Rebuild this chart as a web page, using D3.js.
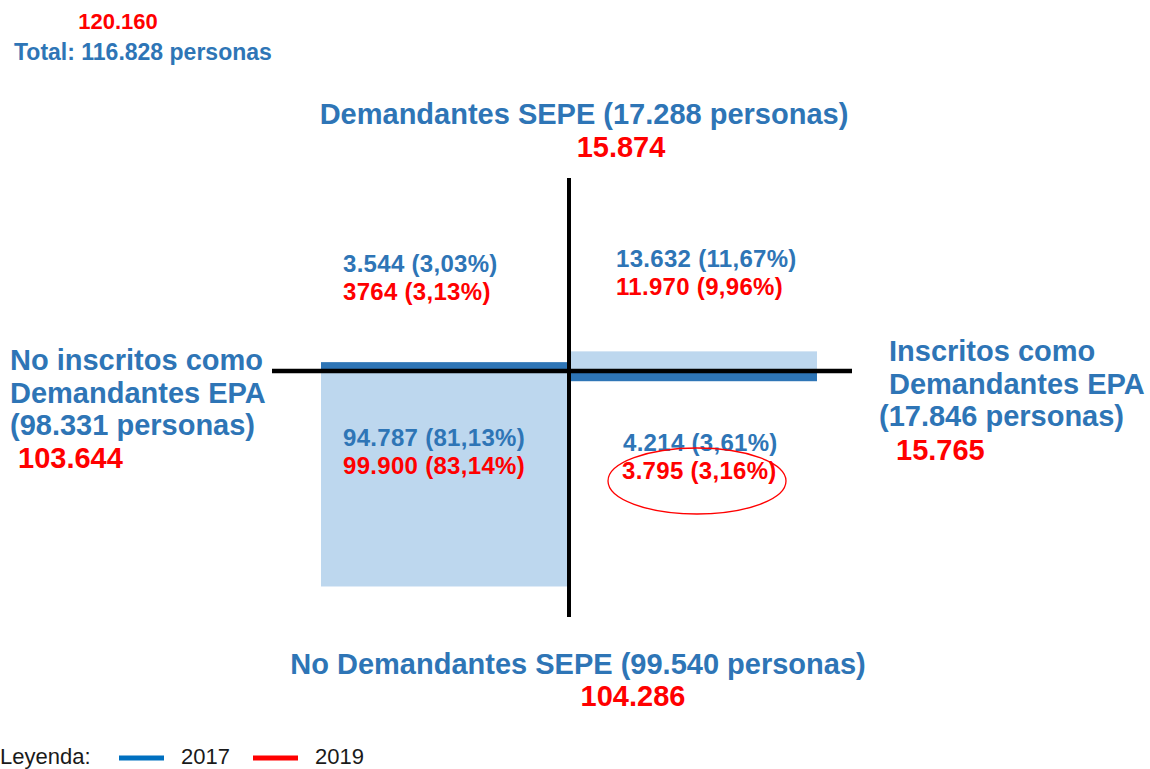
<!DOCTYPE html>
<html>
<head>
<meta charset="utf-8">
<script src="https://cdn.jsdelivr.net/npm/d3@7"></script>
<style>
  body { margin: 0; background: #fff; }
  svg { font-family: "Liberation Sans", Arial, sans-serif; }
</style>
</head>
<body>
<svg width="1150" height="769"></svg>
<script>
// columnas: inscritos EPA, filas: demandantes SEPE
var cols = ["noInscritos", "inscritos"];
var rows = ["demandantes", "noDemandantes"];

// celdas: [fila, columna]
var cellRow = ["demandantes", "demandantes", "noDemandantes", "noDemandantes"];
var cellCol = ["noInscritos", "inscritos", "noInscritos", "inscritos"];
var val2017 = [3544, 13632, 94787, 4214];
var val2019 = [3764, 11970, 99900, 3795];
var lab2017 = ["3.544 (3,03%)", "13.632 (11,67%)", "94.787 (81,13%)", "4.214 (3,61%)"];
var lab2019 = ["3764 (3,13%)", "11.970 (9,96%)", "99.900 (83,14%)", "3.795 (3,16%)"];

var totals = ["120.160", "Total: 116.828 personas"];
var demTitle = ["Demandantes SEPE (17.288 personas)", "15.874"];
var noDemTitle = ["No Demandantes SEPE (99.540 personas)", "104.286"];
var noInscTitle = ["No inscritos como", "Demandantes EPA", "(98.331 personas)", "103.644"];
var inscTitle = ["Inscritos como", "Demandantes EPA", "(17.846 personas)", "15.765"];
var legendYears = ["2017", "2019"];

var blue = "#2E75B6", red = "#FF0000", light = "#BDD7EE";

var svg = d3.select("svg");

var x = d3.scaleBand().domain(cols).range([321, 817]);
var cy = 371;
var cx = x("inscritos");

// alto de cada bloque segun el valor 2017
var h = d3.scaleLinear()
  .domain([0, 4000, 14000, 95000])
  .range([0, 10, 20, 216]);

var cellIdx = d3.range(val2017.length);

// bloques
svg.selectAll("rect.cell")
  .data(cellIdx).enter()
  .append("rect").attr("class", "cell")
  .attr("x", i => x(cellCol[i]))
  .attr("width", x.bandwidth())
  .attr("y", i => cellRow[i] == "demandantes" ? cy - h(val2017[i]) : cy)
  .attr("height", i => h(val2017[i]))
  .style("fill", i => (i == 0 || i == 3) ? blue : light);

// ejes en cruz
svg.append("line")
  .attr("x1", cx).attr("x2", cx).attr("y1", 178).attr("y2", 617)
  .style("stroke", "#000").style("stroke-width", 4);
svg.append("line")
  .attr("x1", 272).attr("x2", 852).attr("y1", cy).attr("y2", cy)
  .style("stroke", "#000").style("stroke-width", 4.5);

// etiquetas de celdas
var labPos = {
  demandantes: { noInscritos: [343, 272], inscritos: [616, 267] },
  noDemandantes: { noInscritos: [343, 446], inscritos: [623, 451] }
};
svg.selectAll("text.l17")
  .data(cellIdx).enter()
  .append("text").attr("class", "l17")
  .attr("x", i => labPos[cellRow[i]][cellCol[i]][0])
  .attr("y", i => labPos[cellRow[i]][cellCol[i]][1])
  .style("font-size", "24px").style("font-weight", "bold").style("fill", blue)
  .style("letter-spacing", "0.3px")
  .text(i => lab2017[i]);
svg.selectAll("text.l19")
  .data(cellIdx).enter()
  .append("text").attr("class", "l19")
  .attr("x", i => labPos[cellRow[i]][cellCol[i]][0] - (i == 3 ? 1 : 0))
  .attr("y", i => labPos[cellRow[i]][cellCol[i]][1] + 28)
  .style("font-size", "24px").style("font-weight", "bold").style("fill", red)
  .style("letter-spacing", "0.3px")
  .text(i => lab2019[i]);

// elipse de resaltado
svg.append("ellipse")
  .attr("cx", 697).attr("cy", 481).attr("rx", 89).attr("ry", 33)
  .style("fill", "none").style("stroke", red).style("stroke-width", 1.3);

function big(t, px, py, color, anchor) {
  return svg.append("text").attr("x", px).attr("y", py)
    .attr("text-anchor", anchor || "start")
    .style("font-size", "29px").style("font-weight", "bold")
    .style("fill", color).text(t);
}

// totales
svg.append("text").attr("x", 118).attr("y", 29).attr("text-anchor", "middle")
  .style("font-size", "22px").style("font-weight", "bold").style("fill", red)
  .text(totals[0]);
svg.append("text").attr("x", 14).attr("y", 60)
  .style("font-size", "23px").style("font-weight", "bold").style("fill", blue)
  .text(totals[1]);

// titulos
big(demTitle[0], 584, 124, blue, "middle");
big(demTitle[1], 621, 157, red, "middle");
big(noDemTitle[0], 578, 674, blue, "middle");
big(noDemTitle[1], 633, 706, red, "middle");

big(noInscTitle[0], 10, 370, blue);
big(noInscTitle[1], 10, 403, blue);
big(noInscTitle[2], 10, 435, blue);
big(noInscTitle[3], 18, 468, red);

big(inscTitle[0], 889, 361, blue);
big(inscTitle[1], 889, 394, blue);
big(inscTitle[2], 879, 426, blue);
big(inscTitle[3], 896, 460, red);

// leyenda
var leg = svg.append("g");
leg.append("text").attr("x", 0).attr("y", 764)
  .style("font-size", "22px").style("fill", "#1a1a1a").text("Leyenda:");
var legColor = ["#0070C0", red];
var legX = d3.scaleOrdinal().domain(legendYears).range([119, 253]);
leg.selectAll("line.k")
  .data(legendYears).enter()
  .append("line").attr("class", "k")
  .attr("x1", d => legX(d)).attr("x2", d => legX(d) + 45)
  .attr("y1", 758).attr("y2", 758)
  .style("stroke", (d, i) => legColor[i]).style("stroke-width", 5);
leg.selectAll("text.k")
  .data(legendYears).enter()
  .append("text").attr("class", "k")
  .attr("x", d => legX(d) + 62).attr("y", 764)
  .style("font-size", "22px").style("fill", "#1a1a1a")
  .text(d => d);
</script>
</body>
</html>
